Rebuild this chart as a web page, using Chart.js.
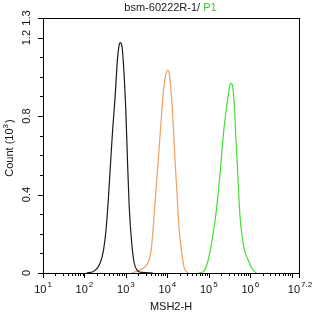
<!DOCTYPE html>
<html>
<head>
<meta charset="utf-8">
<script src="https://cdn.jsdelivr.net/npm/chart.js@4.4.1/dist/chart.umd.min.js"></script>
<style>
  html, body { margin: 0; padding: 0; background: #fff; }
  #wrap { width: 314px; height: 317px; }
</style>
</head>
<body>
<div id="wrap"><canvas id="c" width="314" height="317"></canvas></div>
<script>
// x values are log10(MSH2-H), y values are counts in thousands
const ctrlLog   = [2.05, 2.25, 2.38, 2.46, 2.52, 2.58, 2.63, 2.68, 2.74, 2.79, 2.83, 2.865, 2.91, 2.95, 3.00, 3.04, 3.08, 3.14, 3.20, 3.28, 3.38, 3.65];
const ctrlCount = [0.0, 0.012, 0.051, 0.117, 0.219, 0.389, 0.561, 0.729, 0.899, 1.071, 1.154, 1.174, 1.147, 1.035, 0.816, 0.561, 0.338, 0.153, 0.051, 0.012, 0.003, 0.0];

const secLog   = [3.14, 3.30, 3.46, 3.54, 3.61, 3.66, 3.72, 3.78, 3.84, 3.90, 3.96, 4.008, 4.05, 4.105, 4.145, 4.185, 4.233, 4.28, 4.35, 4.41, 4.50];
const secCount = [0.0, 0.012, 0.032, 0.057, 0.117, 0.236, 0.406, 0.576, 0.746, 0.917, 1.010, 1.035, 1.010, 0.882, 0.746, 0.576, 0.406, 0.236, 0.100, 0.024, 0.0];

const p1Log   = [4.75, 4.87, 4.95, 5.03, 5.11, 5.17, 5.23, 5.29, 5.35, 5.415, 5.47, 5.51, 5.543, 5.577, 5.61, 5.65, 5.70, 5.75, 5.81, 5.87, 5.95, 6.035, 6.14];
const p1Count = [0.0, 0.007, 0.041, 0.109, 0.211, 0.296, 0.415, 0.551, 0.703, 0.823, 0.907, 0.958, 0.967, 0.950, 0.873, 0.703, 0.499, 0.296, 0.177, 0.109, 0.066, 0.024, 0.0];

const xMajor = [1, 2, 3, 4, 5, 6, 7.2];
const yMajor = [0, 0.4, 0.8, 1.2, 1.3];

const FONT = '"Liberation Sans", Arial, sans-serif';

function pts(xs, ys) {
    return xs.map((v, i) => ({ x: v, y: ys[i] }));
}

const axesPlugin = {
    id: 'axes',
    afterDraw(chart) {
        const { ctx, chartArea: a, scales: { x, y } } = chart;
        ctx.save();
        ctx.strokeStyle = '#000';
        ctx.lineWidth = 1;
        ctx.strokeRect(a.left + 0.5, a.top + 0.5, a.right - a.left - 1, a.bottom - a.top);

        // x ticks
        ctx.beginPath();
        for (let d = 1; d <= 7; d++) {
            for (let k = 1; k <= 9; k++) {
                const v = d + Math.log10(k);
                if (v > 7.2) break;
                const px = Math.round(x.getPixelForValue(v)) + 0.5;
                const len = k === 1 ? 5 : 3;
                ctx.moveTo(px, a.bottom);
                ctx.lineTo(px, a.bottom + len);
            }
        }
        const pEnd = Math.round(x.getPixelForValue(7.2)) - 0.5;
        ctx.moveTo(pEnd, a.bottom);
        ctx.lineTo(pEnd, a.bottom + 5);
        // y ticks
        for (let i = 0; i <= 13; i++) {
            const v = i / 10;
            const py = Math.round(y.getPixelForValue(v)) + 0.5;
            const len = yMajor.some(m => Math.abs(m - v) < 1e-6) ? 5 : 3;
            ctx.moveTo(a.left, py);
            ctx.lineTo(a.left - len, py);
        }
        ctx.stroke();

        ctx.fillStyle = '#111';
        ctx.textBaseline = 'middle';
        // x tick labels: 10^n
        xMajor.forEach(v => {
            const px = x.getPixelForValue(v);
            const base = '10';
            const sup = String(v);
            ctx.font = '11px ' + FONT;
            const wb = ctx.measureText(base).width;
            ctx.font = '8px ' + FONT;
            const ws = ctx.measureText(sup).width;
            const left = px - (wb + 1 + ws) / 2;
            ctx.font = '11px ' + FONT;
            ctx.textAlign = 'left';
            ctx.fillText(base, left, a.bottom + 17);
            ctx.font = '8px ' + FONT;
            ctx.fillText(sup, left + wb + 1, a.bottom + 12);
        });

        // y tick labels, rotated
        ctx.font = '11px ' + FONT;
        ctx.textAlign = 'center';
        yMajor.forEach(v => {
            const py = y.getPixelForValue(v);
            ctx.save();
            ctx.translate(a.left - 16, py);
            ctx.rotate(-Math.PI / 2);
            ctx.fillText(String(v), 0, 0);
            ctx.restore();
        });

        // x title
        ctx.font = '11px ' + FONT;
        ctx.textAlign = 'center';
        ctx.fillText('MSH2-H', 171, 307);

        // y title
        ctx.save();
        ctx.translate(10, 148);
        ctx.rotate(-Math.PI / 2);
        ctx.font = '11px ' + FONT;
        const t1 = 'Count (10', t2 = '3', t3 = ')';
        const w1 = ctx.measureText(t1).width;
        const w3 = ctx.measureText(t3).width;
        ctx.font = '8px ' + FONT;
        const w2 = ctx.measureText(t2).width;
        let sx = -(w1 + w2 + w3 + 1) / 2;
        ctx.textAlign = 'left';
        ctx.font = '11px ' + FONT;
        ctx.fillText(t1, sx, 0);
        ctx.font = '8px ' + FONT;
        ctx.fillText(t2, sx + w1, -4);
        ctx.font = '11px ' + FONT;
        ctx.fillText(t3, sx + w1 + w2 + 1, 0);
        ctx.restore();

        // title
        ctx.font = '11px ' + FONT;
        const h1 = 'bsm-60222R-1/ ', h2 = 'P1';
        const hw1 = ctx.measureText(h1).width, hw2 = ctx.measureText(h2).width;
        const hx = 170.5 - (hw1 + hw2) / 2;
        ctx.textAlign = 'left';
        ctx.fillStyle = '#222';
        ctx.fillText(h1, hx, 8);
        ctx.fillStyle = '#33cc33';
        ctx.fillText(h2, hx + hw1, 8);
        ctx.restore();
    }
};

new Chart(document.getElementById('c'), {
    type: 'line',
    data: {
        datasets: [
            { label: 'Control', data: pts(ctrlLog, ctrlCount), borderColor: '#1a1a1a' },
            { label: 'Secondary', data: pts(secLog, secCount), borderColor: '#f0a060' },
            { label: 'P1', data: pts(p1Log, p1Count), borderColor: '#44dd33' },
        ],
    },
    options: {
        responsive: false,
        animation: false,
        events: [],
        layout: { padding: { left: 43, top: 18, right: 14, bottom: 44 } },
        elements: {
            point: { radius: 0 },
            line: { borderWidth: 1.2, cubicInterpolationMode: 'monotone', fill: false },
        },
        plugins: { legend: { display: false }, tooltip: { enabled: false }, title: { display: false } },
        scales: {
            x: { type: 'linear', min: 1, max: 7.2, display: false },
            y: { type: 'linear', min: 0, max: 1.3, display: false },
        },
    },
    plugins: [axesPlugin],
});
</script>
</body>
</html>
